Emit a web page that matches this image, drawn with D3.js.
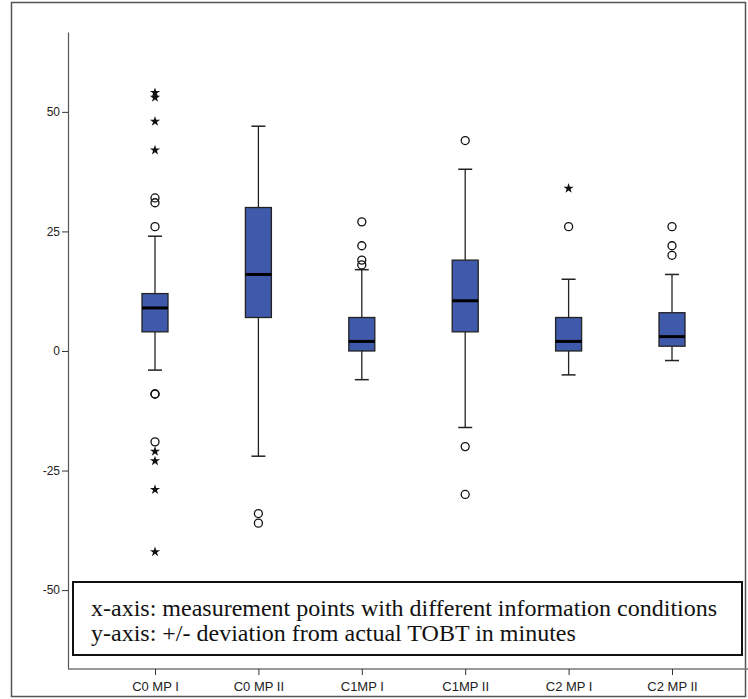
<!DOCTYPE html>
<html>
<head>
<meta charset="utf-8">
<script src="https://cdn.jsdelivr.net/npm/d3@7"></script>
<style>
  html, body { margin: 0; padding: 0; background: #fff; }
  svg { display: block; }
</style>
</head>
<body>
<svg id="chart" width="748" height="699"></svg>
<script>
const categories = ["C0 MP I", "C0 MP II", "C1MP I", "C1MP II", "C2 MP I", "C2 MP II"];
const whiskerLow  = [-4, -22, -6, -16, -5, -2];
const q1          = [4, 7, 0, 4, 0, 1];
const medians     = [9, 16, 2, 10.5, 2, 3];
const q3          = [12, 30, 7, 19, 7, 8];
const whiskerHigh = [24, 47, 17, 38, 15, 16];
const outliers = [
  [26, 31, 32, -9, -9, -19],
  [-34, -36],
  [27, 22, 19, 18],
  [44, -20, -30],
  [26],
  [26, 22, 20]
];
const extremes = [
  [42, 48, 53, 54, -21, -23, -29, -42],
  [],
  [],
  [],
  [34],
  []
];
const yTicks = [-50, -25, 0, 25, 50];
const legendLines = [
  "x-axis: measurement points with different information conditions",
  "y-axis: +/- deviation from actual TOBT in minutes"
];

const svg = d3.select("#chart");

// outer frame
svg.append("rect")
  .attr("x", 11.5).attr("y", 2.5).attr("width", 734).attr("height", 694)
  .attr("fill", "none").attr("stroke", "#555").attr("stroke-width", 1.5);

const y = d3.scaleLinear().domain([-66.5, 66.7]).range([669, 32]);
const x = d3.scalePoint().domain(categories).range([155, 672]);

// y axis
const yAxis = svg.append("g").attr("transform", "translate(68,0)")
  .call(d3.axisLeft(y).tickValues(yTicks).tickFormat(d => String(d))
    .tickSize(6).tickSizeOuter(0).tickPadding(2));
yAxis.select(".domain").attr("stroke", "#555").attr("stroke-width", 1.2);
yAxis.selectAll(".tick line").attr("stroke", "#333");
yAxis.selectAll(".tick text").attr("font-family", "Liberation Sans, Arial, sans-serif")
  .attr("font-size", 12).attr("fill", "#222");

// x axis
svg.append("line").attr("x1", 68).attr("x2", 748).attr("y1", 669).attr("y2", 669)
  .attr("stroke", "#777").attr("stroke-width", 1.5);
const xAxis = svg.append("g").attr("transform", "translate(0,669)")
  .call(d3.axisBottom(x).tickSize(6).tickSizeOuter(0).tickPadding(7));
xAxis.select(".domain").remove();
xAxis.selectAll(".tick line").attr("stroke", "#333");
xAxis.selectAll(".tick text").attr("font-family", "Liberation Sans, Arial, sans-serif")
  .attr("font-size", 13).attr("fill", "#222");

const boxW = 26, capW = 14;
const boxes = svg.append("g");
categories.forEach((c, i) => {
  const cx = x(c);
  const g = boxes.append("g");
  // whiskers
  g.append("line").attr("x1", cx).attr("x2", cx)
    .attr("y1", y(whiskerHigh[i])).attr("y2", y(q3[i]))
    .attr("stroke", "#222").attr("stroke-width", 1.3);
  g.append("line").attr("x1", cx).attr("x2", cx)
    .attr("y1", y(q1[i])).attr("y2", y(whiskerLow[i]))
    .attr("stroke", "#222").attr("stroke-width", 1.3);
  g.append("line").attr("x1", cx - capW / 2).attr("x2", cx + capW / 2)
    .attr("y1", y(whiskerHigh[i])).attr("y2", y(whiskerHigh[i]))
    .attr("stroke", "#222").attr("stroke-width", 1.5);
  g.append("line").attr("x1", cx - capW / 2).attr("x2", cx + capW / 2)
    .attr("y1", y(whiskerLow[i])).attr("y2", y(whiskerLow[i]))
    .attr("stroke", "#222").attr("stroke-width", 1.5);
  // box
  g.append("rect").attr("x", cx - boxW / 2).attr("y", y(q3[i]))
    .attr("width", boxW).attr("height", y(q1[i]) - y(q3[i]))
    .attr("fill", "#3f5aab").attr("stroke", "#222").attr("stroke-width", 1.3);
  // median
  g.append("line").attr("x1", cx - boxW / 2).attr("x2", cx + boxW / 2)
    .attr("y1", y(medians[i])).attr("y2", y(medians[i]))
    .attr("stroke", "#000").attr("stroke-width", 3);
  // outliers
  g.selectAll("circle.o").data(outliers[i]).enter().append("circle")
    .attr("cx", cx).attr("cy", d => y(d)).attr("r", 4)
    .attr("fill", "none").attr("stroke", "#111").attr("stroke-width", 1.3);
  g.selectAll("path.s").data(extremes[i]).enter().append("path")
    .attr("transform", d => `translate(${cx},${y(d)})`)
    .attr("d", d3.symbol().type(d3.symbolStar).size(32))
    .attr("fill", "#111");
});

// legend box
const lg = svg.append("g");
lg.append("rect").attr("x", 73).attr("y", 582).attr("width", 669).attr("height", 73)
  .attr("fill", "#fff").attr("stroke", "#111").attr("stroke-width", 2);
lg.selectAll("text").data(legendLines).enter().append("text")
  .attr("x", 91).attr("y", (d, i) => 616 + i * 25)
  .attr("font-family", "Liberation Serif, Times New Roman, serif")
  .attr("font-size", 24).attr("fill", "#111")
  .text(d => d);
</script>
</body>
</html>
